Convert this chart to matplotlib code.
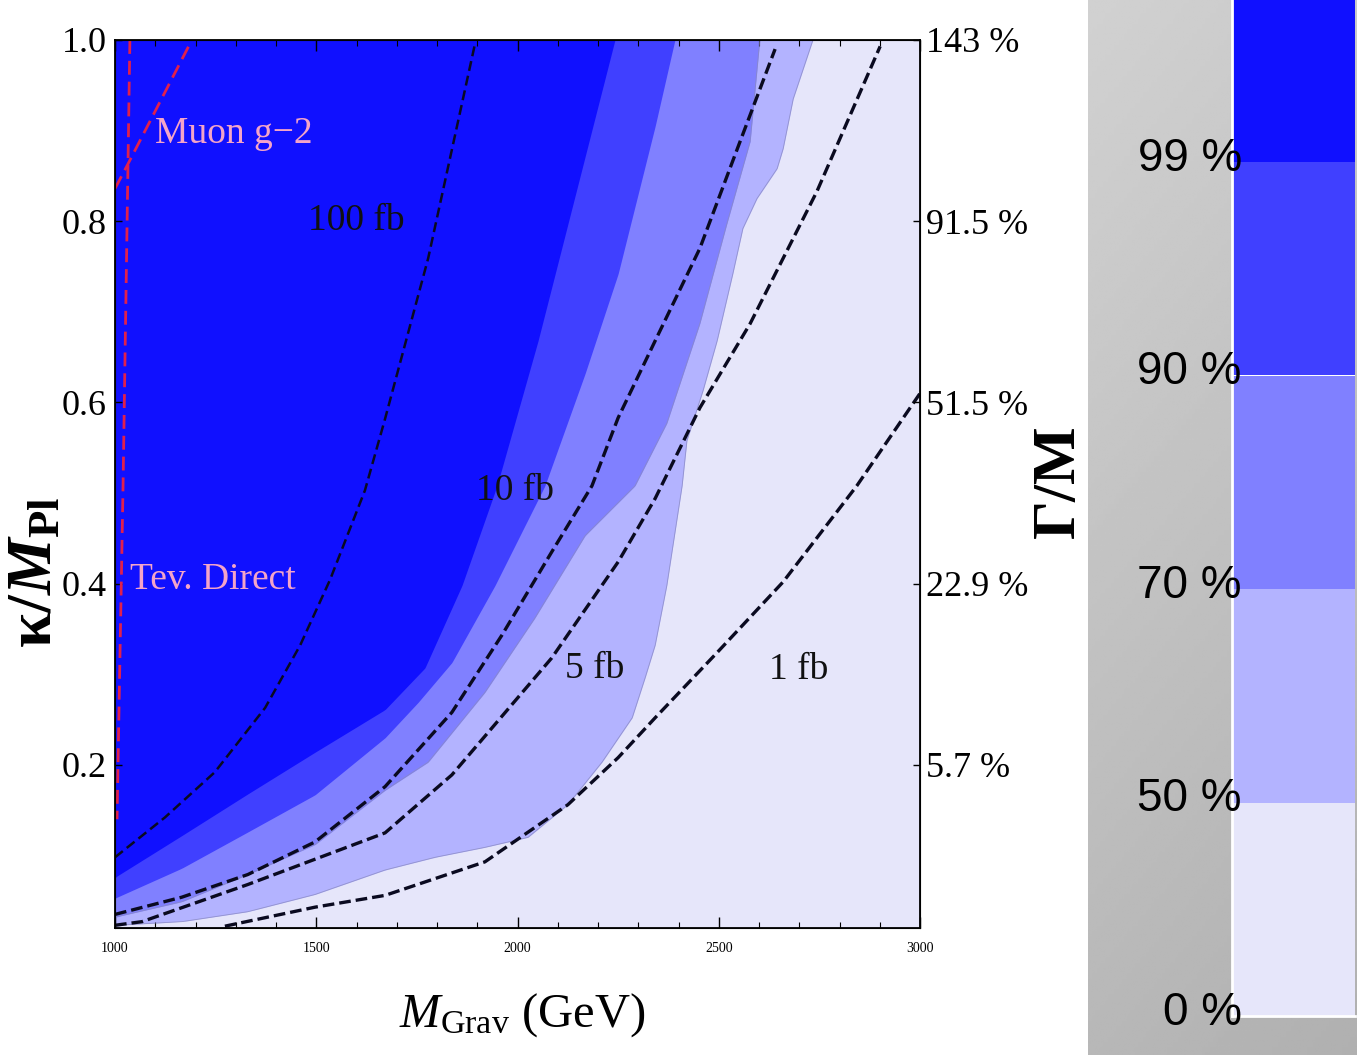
import numpy as np
import matplotlib.pyplot as plt
from matplotlib.ticker import MultipleLocator

plt.rcParams['mathtext.fontset'] = 'custom'
plt.rcParams['mathtext.rm'] = 'Liberation Serif'
plt.rcParams['mathtext.it'] = 'Liberation Serif:italic'
plt.rcParams['mathtext.bf'] = 'Liberation Serif:bold'
plt.rcParams['mathtext.bfit'] = 'Liberation Serif:bold:italic'
serif = ['Liberation Serif', 'DejaVu Serif']

# region boundaries (M_Grav in GeV, kappa/M_Pl)
b99_M = [1000, 1166, 1330, 1497, 1671, 1770, 1862, 1949, 2051, 2135, 2242]
b99_k = [0.076, 0.122, 0.168, 0.214, 0.261, 0.307, 0.398, 0.508, 0.668, 0.814, 1.0]
b90_M = [1000, 1166, 1330, 1497, 1671, 1753, 1837, 1944, 2068, 2168, 2250, 2342, 2391]
b90_k = [0.053, 0.086, 0.126, 0.167, 0.230, 0.269, 0.313, 0.398, 0.508, 0.632, 0.742, 0.905, 1.0]
b70_M = [1000, 1166, 1330, 1497, 1671, 1778, 1919, 2043, 2168, 2292, 2371, 2453, 2520, 2578, 2602]
b70_k = [0.032, 0.049, 0.079, 0.112, 0.172, 0.203, 0.280, 0.362, 0.453, 0.508, 0.577, 0.687, 0.797, 0.888, 1.0]
b50_M = [1000, 1166, 1330, 1497, 1671, 1795, 1919, 2026, 2125, 2210, 2285, 2317, 2342, 2371, 2409,
         2421, 2461, 2496, 2535, 2560, 2595, 2645, 2660, 2685, 2734]
b50_k = [0.023, 0.027, 0.038, 0.057, 0.084, 0.098, 0.109, 0.120, 0.156, 0.203, 0.252, 0.296, 0.332, 0.398, 0.508,
         0.558, 0.613, 0.668, 0.742, 0.792, 0.825, 0.858, 0.880, 0.935, 1.0]

# cross-section contours
xs100_M = [1000, 1124, 1248, 1373, 1460, 1534, 1621, 1671, 1778, 1894]
xs100_k = [0.098, 0.142, 0.192, 0.263, 0.332, 0.404, 0.503, 0.582, 0.759, 0.995]
xs10_M = [1000, 1166, 1330, 1497, 1671, 1837, 1961, 2085, 2185, 2250, 2342, 2453, 2553, 2640]
xs10_k = [0.035, 0.054, 0.079, 0.115, 0.176, 0.258, 0.343, 0.435, 0.508, 0.583, 0.668, 0.770, 0.888, 0.99]
xs5_M = [1000, 1067, 1330, 1671, 1837, 2085, 2250, 2342, 2453, 2578, 2744, 2901]
xs5_k = [0.023, 0.027, 0.068, 0.125, 0.189, 0.318, 0.424, 0.494, 0.594, 0.687, 0.833, 0.993]
xs1_M = [1273, 1497, 1671, 1919, 2125, 2250, 2342, 2496, 2660, 2843, 3000]
xs1_k = [0.022, 0.043, 0.056, 0.093, 0.156, 0.208, 0.252, 0.324, 0.402, 0.508, 0.610]

# bounds
tev_M = [1037, 1020, 1005]
tev_k = [1.0, 0.508, 0.14]
muon_M = [1000, 1032, 1191]
muon_k = [0.836, 0.863, 1.0]

level_labels = ['0 %', '50 %', '70 %', '90 %', '99 %']
level_colors = ['#e6e6fa', '#b3b3ff', '#8080ff', '#4040ff', '#1010ff']

k_ticks = [0.2, 0.4, 0.6, 0.8, 1.0]
width_labels = ['5.7 %', '22.9 %', '51.5 %', '91.5 %', '143 %']

W, H = 1357, 1055
fig = plt.figure(figsize=(W / 100, H / 100), dpi=100)

# grey panel behind the colour key
bg = fig.add_axes([1088 / W, 0, 1 - 1088 / W, 1])
yy, xx = np.mgrid[0:1:200j, 0:1:100j]
bg.imshow(0.72 + 0.10 * yy - 0.03 * xx, cmap='gray', vmin=0, vmax=1,
          origin='lower', aspect='auto', extent=[0, 1, 0, 1])
bg.axis('off')

ax = fig.add_axes([115 / W, (H - 928) / H, 805 / W, 888 / H])
ax.set_facecolor(level_colors[0])
kk = np.linspace(0.02, 1.0, 500)
for bM, bk, col in [(b50_M, b50_k, level_colors[1]), (b70_M, b70_k, level_colors[2]),
                    (b90_M, b90_k, level_colors[3]), (b99_M, b99_k, level_colors[4])]:
    edge = np.interp(kk, bk, bM, left=1000)
    ax.fill_betweenx(kk, 1000, edge, color=col, lw=0)
for bM, bk in [(b50_M, b50_k), (b70_M, b70_k)]:
    ax.plot(bM, bk, color='#8a8ac0', lw=0.6, alpha=0.8)

ax.plot(xs100_M, xs100_k, color='#0a0a20', lw=1.8, ls=(0, (4, 2)))
for m, k in [(xs10_M, xs10_k), (xs5_M, xs5_k), (xs1_M, xs1_k)]:
    ax.plot(m, k, color='#0a0a20', lw=2.4, ls=(0, (3.5, 1.5)))

ax.plot(tev_M, tev_k, color='#e0204c', lw=2, ls=(0, (5, 2.5)))
ax.plot(muon_M, muon_k, color='#e0204c', lw=2, ls=(0, (5, 2.5)))

pink = '#f4a4c8'
ax.text(1296, 0.897, 'Muon g\u22122', color=pink, fontsize=27, family=serif, ha='center', va='center')
ax.text(1244, 0.404, 'Tev. Direct', color=pink, fontsize=27, family=serif, ha='center', va='center')
for txt, m, k in [('100 fb', 1599, 0.80), ('10 fb', 1994, 0.502), ('5 fb', 2193, 0.306), ('1 fb', 2699, 0.305)]:
    ax.text(m, k, txt, fontsize=27, family=serif, ha='center', va='center', color='#111111')

ax.set_xlim(1000, 3000)
ax.set_ylim(0.02, 1.0)
ax.set_xticks([1000, 1500, 2000, 2500, 3000])
ax.xaxis.set_minor_locator(MultipleLocator(100))
ax.set_yticks(k_ticks)
ax.set_yticklabels(['%.1f' % v for v in k_ticks])
ax.tick_params(axis='x', which='major', direction='in', top=True, length=8, width=1, labelsize=10, pad=10)
ax.tick_params(axis='x', which='minor', direction='in', top=True, length=4.5, width=0.8)
ax.tick_params(axis='y', direction='in', length=5, width=1, labelsize=26, pad=6)
for lab in ax.get_xticklabels() + ax.get_yticklabels():
    lab.set_family(serif)
for s in ax.spines.values():
    s.set_linewidth(1.3)

ax2 = ax.twinx()
ax2.set_ylim(0.02, 1.0)
ax2.set_yticks(k_ticks)
ax2.set_yticklabels(width_labels)
ax2.tick_params(axis='y', direction='in', length=5, width=1, labelsize=26, pad=4)
for lab in ax2.get_yticklabels():
    lab.set_family(serif)

fig.text(33 / W, 1 - 572 / H, r'$\mathbf{\kappa/}\mathbfit{M}_{\mathbf{Pl}}$', rotation=90,
         fontsize=46, ha='center', va='center')
fig.text(1059 / W, 1 - 483 / H, r'$\mathbf{\Gamma/M}$', rotation=90,
         fontsize=44, ha='center', va='center')
fig.text(522 / W, 1 - 1015 / H, r'$M_{\mathrm{Grav}}$ (GeV)', fontsize=35, family=serif,
         ha='center', va='center')

# colour key
cax = fig.add_axes([1232 / W, (H - 1016) / H, 123 / W, 1016 / H])
for i, col in enumerate(level_colors):
    cax.bar(0.5, 1, bottom=i, width=1, color=col, linewidth=0)
cax.set_xlim(0, 1)
cax.set_ylim(0, 1016 / 213.5)
cax.set_xticks([])
cax.set_yticks([])
for side in ['top', 'right']:
    cax.spines[side].set_visible(False)
for side in ['left', 'bottom']:
    cax.spines[side].set_color('white')
    cax.spines[side].set_linewidth(2)
for i, lab in enumerate(level_labels):
    cax.text(0.08, i - 0.04, lab, ha='right', va='baseline', fontsize=33,
             family=['Liberation Sans', 'DejaVu Sans'], color='black')

fig.savefig('out.png', dpi=100)
